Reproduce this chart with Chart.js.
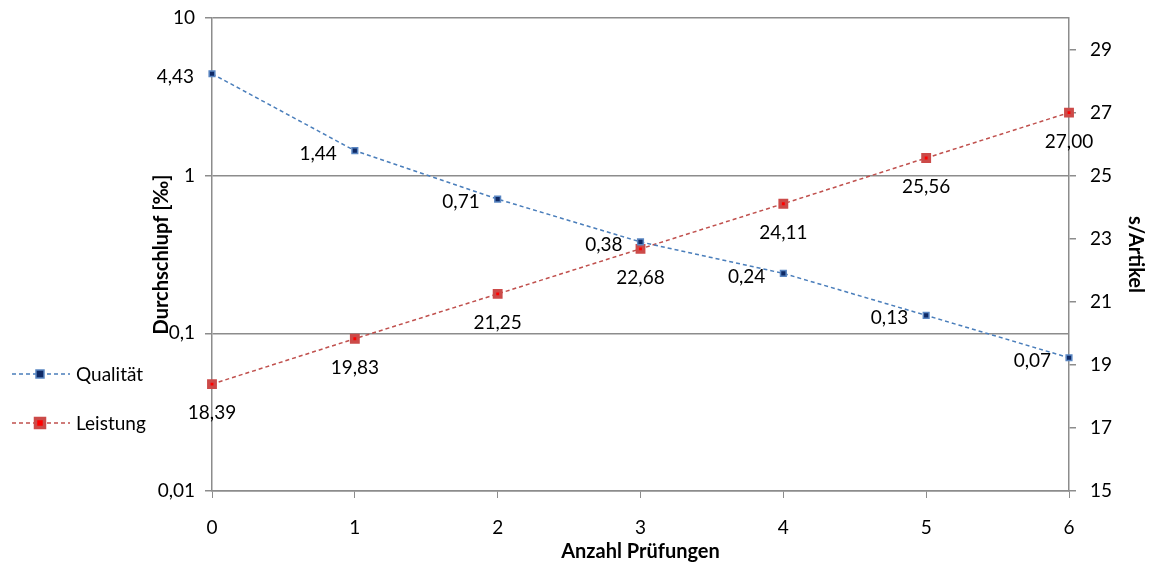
<!DOCTYPE html>
<html lang="de">
<head>
<meta charset="utf-8">
<title>Durchschlupf und Leistung</title>
<script src="https://cdn.jsdelivr.net/npm/chart.js@4.4.1/dist/chart.umd.min.js"></script>
<style>
    html, body { margin: 0; padding: 0; background: #fff; }
    #wrap { width: 1150px; height: 567px; }
</style>
</head>
<body>
<div id="wrap"><canvas id="chart" width="1150" height="567"></canvas></div>
<script>
const pruefungen = ["0", "1", "2", "3", "4", "5", "6"];
const qualitaet = [4.43, 1.44, 0.71, 0.38, 0.24, 0.13, 0.07];
const leistung = [18.39, 19.83, 21.25, 22.68, 24.11, 25.56, 27.00];
const logTicks = [0.01, 0.1, 1, 10];
const rightTicks = [15, 17, 19, 21, 23, 25, 27, 29];

const FONT = "Lato, 'Open Sans', sans-serif";
const gridGrey = "#8c8c8c";
const blue = "#4a7ebb";
const red = "#c0504d";

const fmt = (v) => {
    if (v >= 1 && Number.isInteger(v)) return String(v);
    return String(v).replace(".", ",");
};
const fmt2 = (v) => v.toFixed(2).replace(".", ",");

// value labels: Qualität left of the point, Leistung below it
const valueLabels = {
    id: "valueLabels",
    afterDatasetsDraw(chart) {
        const { ctx } = chart;
        ctx.save();
        ctx.font = `19px ${FONT}`;
        ctx.fillStyle = "#000";
        chart.data.datasets.forEach((ds, i) => {
            const meta = chart.getDatasetMeta(i);
            meta.data.forEach((pt, j) => {
                const txt = fmt2(ds.data[j]);
                ctx.textBaseline = "middle";
                if (ds.labelPos === "left") {
                    ctx.textAlign = "right";
                    ctx.fillText(txt, pt.x - 18, pt.y + 3);
                } else {
                    ctx.textAlign = "center";
                    ctx.fillText(txt, pt.x, pt.y + 29);
                }
            });
        });
        ctx.restore();
    }
};

// legend drawn at the lower left, dashed line with its marker
const sideLegend = {
    id: "sideLegend",
    afterDraw(chart) {
        const { ctx } = chart;
        const rowsY = [374, 423];
        ctx.save();
        chart.data.datasets.forEach((ds, i) => {
            const y = rowsY[i];
            ctx.strokeStyle = ds.borderColor;
            ctx.lineWidth = 1.5;
            ctx.setLineDash([4, 3]);
            ctx.beginPath();
            ctx.moveTo(12, y);
            ctx.lineTo(70, y);
            ctx.stroke();
            ctx.setLineDash([]);
            const r = ds.pointRadius;
            const bw = ds.pointBorderWidth;
            ctx.fillStyle = ds.pointBorderColor;
            ctx.fillRect(40 - r - bw / 2, y - r - bw / 2, 2 * r + bw, 2 * r + bw);
            ctx.fillStyle = ds.pointBackgroundColor;
            ctx.fillRect(40 - r + bw / 2, y - r + bw / 2, 2 * r - bw, 2 * r - bw);
            ctx.fillStyle = "#000";
            ctx.font = `19px ${FONT}`;
            ctx.textAlign = "left";
            ctx.textBaseline = "middle";
            ctx.fillText(ds.label, 76, y + 1);
        });
        ctx.restore();
    }
};

const titleFont = { family: FONT, size: 20, weight: "bold" };

// fixed axis widths; labels may overhang the plot ends without shrinking it
const fixWidth = (w) => (s) => {
    s.width = w;
    s.paddingTop = 0;
    s.paddingBottom = 0;
};

new Chart(document.getElementById("chart"), {
    type: "line",
    data: {
        labels: pruefungen,
        datasets: [
            {
                label: "Qualität",
                data: qualitaet,
                yAxisID: "y",
                borderColor: blue,
                borderWidth: 1.5,
                borderDash: [4, 3],
                pointStyle: "rect",
                pointRadius: 4,
                pointBorderWidth: 1.5,
                pointBackgroundColor: "#0f2a66",
                pointBorderColor: "#5a86c2",
                tension: 0,
                labelPos: "left"
            },
            {
                label: "Leistung",
                data: leistung,
                yAxisID: "y2",
                borderColor: red,
                borderWidth: 1.5,
                borderDash: [4, 3],
                pointStyle: "rect",
                pointRadius: 4.5,
                pointBorderWidth: 3.5,
                pointBackgroundColor: "#ff0000",
                pointBorderColor: "#cc4a48",
                tension: 0,
                labelPos: "below"
            }
        ]
    },
    options: {
        responsive: false,
        animation: false,
        layout: { autoPadding: false, padding: { left: 150, top: 18, right: 0, bottom: 0 } },
        plugins: {
            legend: { display: false },
            tooltip: { enabled: false }
        },
        scales: {
            x: {
                type: "category",
                offset: false,
                grid: { display: true, drawOnChartArea: false, drawTicks: true, tickLength: 7, color: gridGrey },
                border: { color: gridGrey, width: 1.5 },
                ticks: { color: "#000", font: { family: FONT, size: 19 }, padding: 18, maxRotation: 0 },
                title: {
                    display: true,
                    text: "Anzahl Prüfungen",
                    color: "#000",
                    font: titleFont,
                    padding: { top: 0, bottom: 3 }
                },
                afterFit: (s) => { s.height = 76; }
            },
            y: {
                type: "logarithmic",
                position: "left",
                min: 0.01,
                max: 10,
                afterBuildTicks: (s) => { s.ticks = logTicks.map((v) => ({ value: v, major: true })); },
                grid: { color: gridGrey, lineWidth: 1.5, tickLength: 7 },
                border: { color: gridGrey, width: 1.5 },
                ticks: {
                    color: "#000",
                    font: { family: FONT, size: 19 },
                    padding: 10,
                    callback: (v) => fmt(v)
                },
                title: {
                    display: true,
                    text: "Durchschlupf [‰]",
                    color: "#000",
                    font: titleFont,
                    padding: { top: 0, bottom: 0 }
                },
                afterFit: fixWidth(212 - 150)
            },
            y2: {
                type: "linear",
                position: "right",
                min: 15,
                max: 30,
                afterBuildTicks: (s) => { s.ticks = rightTicks.map((v) => ({ value: v })); },
                grid: { drawOnChartArea: false, color: gridGrey, lineWidth: 1.5, tickLength: 7 },
                border: { color: gridGrey, width: 1.5 },
                ticks: { color: "#000", font: { family: FONT, size: 19 }, padding: 14 },
                title: {
                    display: true,
                    text: "s/Artikel",
                    color: "#000",
                    font: titleFont,
                    padding: { top: 3, bottom: 0 }
                },
                afterFit: fixWidth(1150 - 1069)
            }
        }
    },
    plugins: [valueLabels, sideLegend]
});
</script>
</body>
</html>
